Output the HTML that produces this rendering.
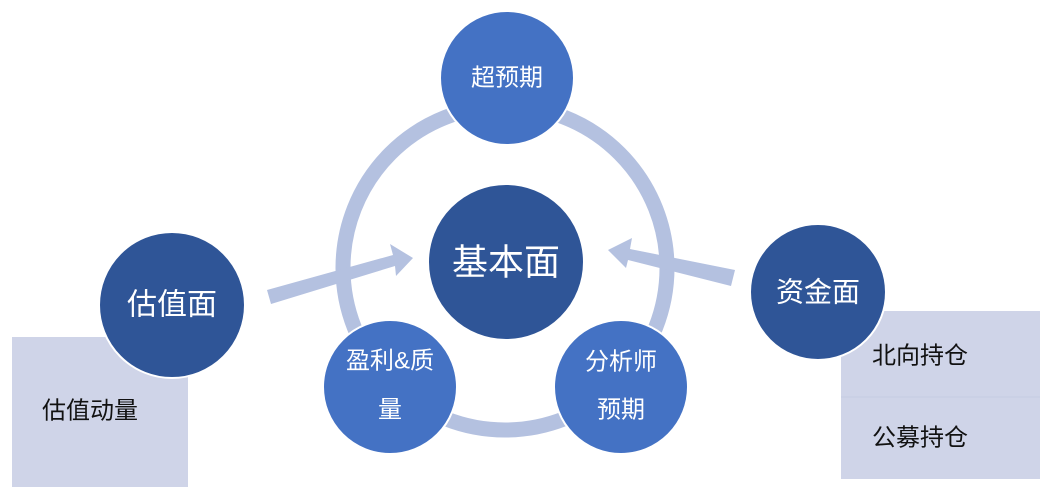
<!DOCTYPE html>
<html><head><meta charset="utf-8"><style>
body{margin:0;background:#fff}
svg text{font-family:"Liberation Sans","Noto Sans CJK SC",sans-serif;text-anchor:middle;dominant-baseline:central}
</style></head><body>
<svg width="1047" height="495" viewBox="0 0 1047 495" xmlns="http://www.w3.org/2000/svg">
<rect x="12" y="337" width="176" height="150" fill="#cfd4e8"/>
<rect x="841" y="311" width="199" height="168" fill="#cfd4e8"/>
<line x1="841" y1="397" x2="1040" y2="397" stroke="#c6cce2" stroke-width="1"/>
<circle cx="505" cy="268" r="162" fill="none" stroke="#b4c1e0" stroke-width="15"/>
<g fill="#b4c1e0">
<polygon points="267,290 393,255 390,244 413,258 396,276 395,266 271,304"/>
<polygon points="735,270 630,249 632,238 608,250 626,268 628,260 731,286"/>
</g>
<g stroke="#fff" stroke-width="2">
<circle cx="507" cy="78" r="67" fill="#4472c4"/>
<circle cx="506" cy="262" r="78" fill="#2f5597"/>
<circle cx="390" cy="387" r="67" fill="#4472c4"/>
<circle cx="621" cy="387" r="67" fill="#4472c4"/>
<circle cx="172" cy="305" r="73" fill="#2f5597"/>
<circle cx="818" cy="292" r="68" fill="#2f5597"/>
</g>
<g fill="#fff">
<text x="507" y="78" font-size="24">超预期</text>
<text x="506" y="262" font-size="36">基本面</text>
<text x="390" y="361" font-size="24">盈利&amp;质</text>
<text x="390" y="410" font-size="24">量</text>
<text x="621" y="362" font-size="24">分析师</text>
<text x="621" y="410" font-size="24">预期</text>
<text x="172" y="305" font-size="30">估值面</text>
<text x="818" y="292" font-size="28">资金面</text>
</g>
<g fill="#111" font-size="24">
<text x="90" y="411">估值动量</text>
<text x="920" y="356">北向持仓</text>
<text x="920" y="438">公募持仓</text>
</g>
</svg>
</body></html>
